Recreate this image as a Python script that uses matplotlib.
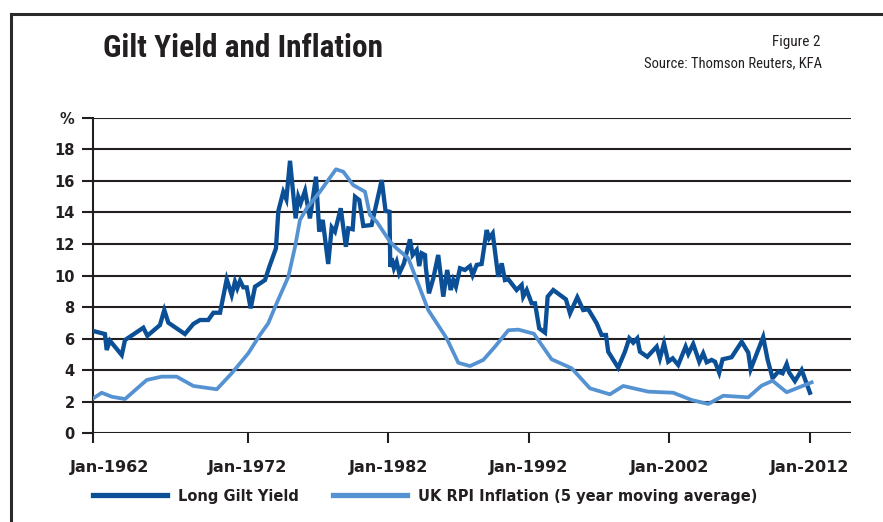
import matplotlib
matplotlib.use("Agg")
import matplotlib.pyplot as plt
import numpy as np
from matplotlib.lines import Line2D
from matplotlib.transforms import ScaledTranslation
from matplotlib import font_manager

# Long gilt yield (%), decimal year
gilt_year = [1962.04, 1962.79, 1962.90, 1963.11, 1963.87, 1964.08, 1965.26, 1965.52, 1966.33, 1966.61,
             1966.87, 1967.94, 1968.48, 1968.91, 1969.44, 1969.77, 1970.20, 1970.63, 1970.95, 1971.16,
             1971.31, 1971.49, 1971.70, 1971.92, 1972.19, 1972.50, 1973.21, 1973.52, 1973.99, 1974.16,
             1974.51, 1974.73, 1974.99, 1975.39, 1975.58, 1975.75, 1976.06, 1976.41, 1976.84, 1977.07,
             1977.32, 1977.71, 1977.96, 1978.19, 1978.60, 1978.97, 1979.14, 1979.45, 1979.62, 1979.92,
             1980.21, 1980.80, 1981.52, 1981.79, 1982.07, 1982.13, 1982.23, 1982.39, 1982.58, 1982.77,
             1983.10, 1983.53, 1983.72, 1984.01, 1984.19, 1984.36, 1984.60, 1984.65, 1984.88, 1985.19,
             1985.54, 1985.90, 1986.18, 1986.43, 1986.61, 1986.80, 1987.09, 1987.44, 1987.80, 1987.99,
             1988.28, 1988.63, 1988.99, 1989.17, 1989.42, 1989.81, 1990.06, 1990.29, 1990.53, 1991.12,
             1991.48, 1991.59, 1991.84, 1992.19, 1992.43, 1992.73, 1993.14, 1993.33, 1993.73, 1994.63,
             1994.92, 1995.44, 1995.86, 1996.22, 1996.82, 1997.17, 1997.48, 1997.64, 1998.35, 1998.83,
             1999.14, 1999.42, 1999.71, 1999.90, 2000.42, 2001.09, 2001.32, 2001.61, 2001.91, 2002.23,
             2002.62, 2003.15, 2003.34, 2003.69, 2004.12, 2004.40, 2004.65, 2005.00, 2005.24, 2005.54,
             2005.78, 2006.42, 2007.14, 2007.61, 2007.78, 2008.67, 2008.99, 2009.34, 2009.74, 2010.05,
             2010.34, 2010.52, 2010.93, 2011.41, 2011.71, 2012.00]
gilt_value = [6.48, 6.29, 5.28, 5.87, 4.96, 5.91, 6.69, 6.18, 6.86, 7.81,
              7.01, 6.29, 6.93, 7.18, 7.18, 7.64, 7.64, 9.76, 8.76, 9.61,
              9.19, 9.67, 9.25, 9.25, 7.92, 9.29, 9.71, 10.56, 11.72, 14.09,
              15.29, 14.83, 17.27, 13.62, 14.99, 14.58, 15.37, 13.62, 16.26, 12.78,
              13.52, 10.73, 13.05, 12.78, 14.26, 11.82, 12.99, 12.93, 14.99, 14.78,
              13.14, 13.20, 16.05, 14.09, 14.04, 10.54, 11.09, 10.46, 10.87, 10.14,
              10.77, 12.29, 11.30, 11.62, 10.60, 11.41, 11.30, 10.56, 8.87, 9.82,
              11.30, 8.66, 10.35, 9.08, 9.71, 9.29, 10.46, 10.35, 10.60, 10.03,
              10.67, 10.73, 12.88, 12.36, 12.67, 9.92, 10.77, 9.71, 9.76, 9.08,
              9.40, 8.66, 9.08, 8.24, 8.24, 6.65, 6.38, 8.66, 9.08, 8.49,
              7.60, 8.62, 7.81, 7.86, 6.97, 6.23, 6.23, 5.17, 4.16, 5.17,
              6.02, 5.74, 6.02, 5.17, 4.85, 5.49, 4.75, 5.70, 4.54, 4.75,
              4.33, 5.49, 5.03, 5.66, 4.54, 5.07, 4.50, 4.65, 4.54, 3.84,
              4.69, 4.82, 5.80, 5.11, 4.06, 6.10, 4.65, 3.49, 3.90, 3.80,
              4.39, 3.85, 3.31, 4.01, 3.28, 2.57]

# UK RPI inflation, 5 year moving average (%)
rpi_year = [1962.04, 1962.58, 1963.22, 1964.08, 1965.48, 1966.44, 1967.41, 1968.48, 1969.99, 1970.95,
            1972.02, 1972.85, 1973.44, 1974.04, 1974.87, 1975.35, 1975.70, 1976.18, 1977.12, 1978.26,
            1978.78, 1979.49, 1980.33, 1980.68, 1981.16, 1982.11, 1982.58, 1983.41, 1984.01, 1984.83,
            1986.14, 1986.97, 1987.80, 1988.75, 1989.58, 1990.53, 1991.24, 1992.35, 1993.61, 1995.04,
            1996.34, 1997.76, 1998.71, 2000.49, 2002.27, 2003.58, 2004.76, 2005.83, 2007.61, 2008.56,
            2009.34, 2010.34, 2012.12]
rpi_value = [2.22, 2.57, 2.32, 2.17, 3.38, 3.59, 3.59, 3.00, 2.79, 3.80,
             5.07, 6.23, 6.97, 8.24, 9.92, 11.82, 13.52, 14.26, 15.31, 16.73,
             16.58, 15.73, 15.31, 13.83, 13.41, 12.14, 11.72, 11.09, 9.71, 7.81,
             6.02, 4.47, 4.26, 4.65, 5.49, 6.53, 6.57, 6.31, 4.69, 4.12,
             2.85, 2.47, 3.00, 2.64, 2.57, 2.11, 1.86, 2.38, 2.28, 3.02,
             3.33, 2.60, 3.23]

tick_years = [1962, 1972, 1982, 1992, 2002, 2012]
tick_labels = ["Jan-1962", "Jan-1972", "Jan-1982", "Jan-1992", "Jan-2002", "Jan-2012"]
y_ticks = list(range(0, 21, 2))
y_labels = [str(v) for v in y_ticks[:-1]] + ["%"]

dark = "#231f20"
gilt_color = "#0b4f97"
rpi_color = "#5592d2"

# the original axis gives the first decade a little more room than the rest
knots_in = [1800, 1962, 1972, 2200]
knots_out = [(1800 - 1962) * 15.53, 0.0, 155.3, 155.3 + (2200 - 1972) * 14.05]


def fwd(x):
    return np.interp(x, knots_in, knots_out)


def inv(x):
    return np.interp(x, knots_out, knots_in)


# pick a condensed face for the headings if one is installed
names = {f.name for f in font_manager.fontManager.ttflist}
narrow = [n for n in ["Liberation Sans Narrow", "DejaVu Sans Condensed", "Roboto Condensed",
                      "Open Sans Condensed"] if n in names]
head_family = narrow[:1] + ["Roboto", "DejaVu Sans"]

fig = plt.figure(figsize=(8.83, 5.22), dpi=100)
ax = fig.add_axes([92.7 / 883, 1 - 433.3 / 522, (850.7 - 92.7) / 883, (433.3 - 117.7) / 522])
ax.set_xscale("function", functions=(fwd, inv))

for v in y_ticks:
    ax.axhline(v, color=dark, lw=1.5, zorder=1)

ax.plot(gilt_year, gilt_value, color=gilt_color, lw=3.1, solid_joinstyle="miter", zorder=3,
        label="Long Gilt Yield")
ax.plot(rpi_year, rpi_value, color=rpi_color, lw=2.7, zorder=4,
        label="UK RPI Inflation (5 year moving average)")

ax.set_xlim(1962, 2014.9)
ax.set_ylim(0, 20)
ax.set_xticks(tick_years)
ax.set_xticklabels(tick_labels)
ax.xaxis.set_minor_locator(matplotlib.ticker.NullLocator())
ax.set_yticks(y_ticks)
ax.set_yticklabels(y_labels)

for s in ["top", "right", "bottom"]:
    ax.spines[s].set_visible(False)
ax.spines["left"].set_color(dark)
ax.spines["left"].set_linewidth(1.5)

ax.tick_params(axis="y", length=8, width=1.5, color=dark, pad=5, labelsize=10.5, labelcolor=dark)
ax.tick_params(axis="x", length=7, width=1.5, color=dark, pad=12, labelsize=11.5, labelcolor=dark)
for lab in ax.get_xticklabels() + ax.get_yticklabels():
    lab.set_fontweight("bold")
first = ax.get_xticklabels()[0]
first.set_transform(first.get_transform() + ScaledTranslation(0.17, 0, fig.dpi_scale_trans))

leg = fig.legend(loc="center left", bbox_to_anchor=(93 / 883, 1 - 496 / 522), ncol=2, frameon=False,
                 handlelength=5.1, handletextpad=0.75, columnspacing=2.3, borderpad=0, borderaxespad=0,
                 prop={"weight": "bold", "size": 10.5})
for line in leg.get_lines():
    line.set_linewidth(3.8)
for t in leg.get_texts():
    t.set_color(dark)

fig.text(103 / 883, 1 - 48 / 522, "Gilt Yield and Inflation", family=head_family, weight="bold",
         stretch="condensed", fontsize=22.5, color=dark, va="center", ha="left")
fig.text(820 / 883, 1 - 42 / 522, "Figure 2", family=head_family, stretch="condensed",
         fontsize=11, color=dark, va="center", ha="right")
fig.text(822 / 883, 1 - 63 / 522, "Source: Thomson Reuters, KFA", family=head_family,
         stretch="condensed", fontsize=10.5, color=dark, va="center", ha="right")

# frame of the original figure box
fig.add_artist(Line2D([11 / 883, 11 / 883], [0, 1 - 13.5 / 522], color="#2a2a2a", lw=2.2))
fig.add_artist(Line2D([11 / 883, 1], [1 - 13.5 / 522, 1 - 13.5 / 522], color="#2a2a2a", lw=2.2))

fig.savefig("out.png", dpi=100)
